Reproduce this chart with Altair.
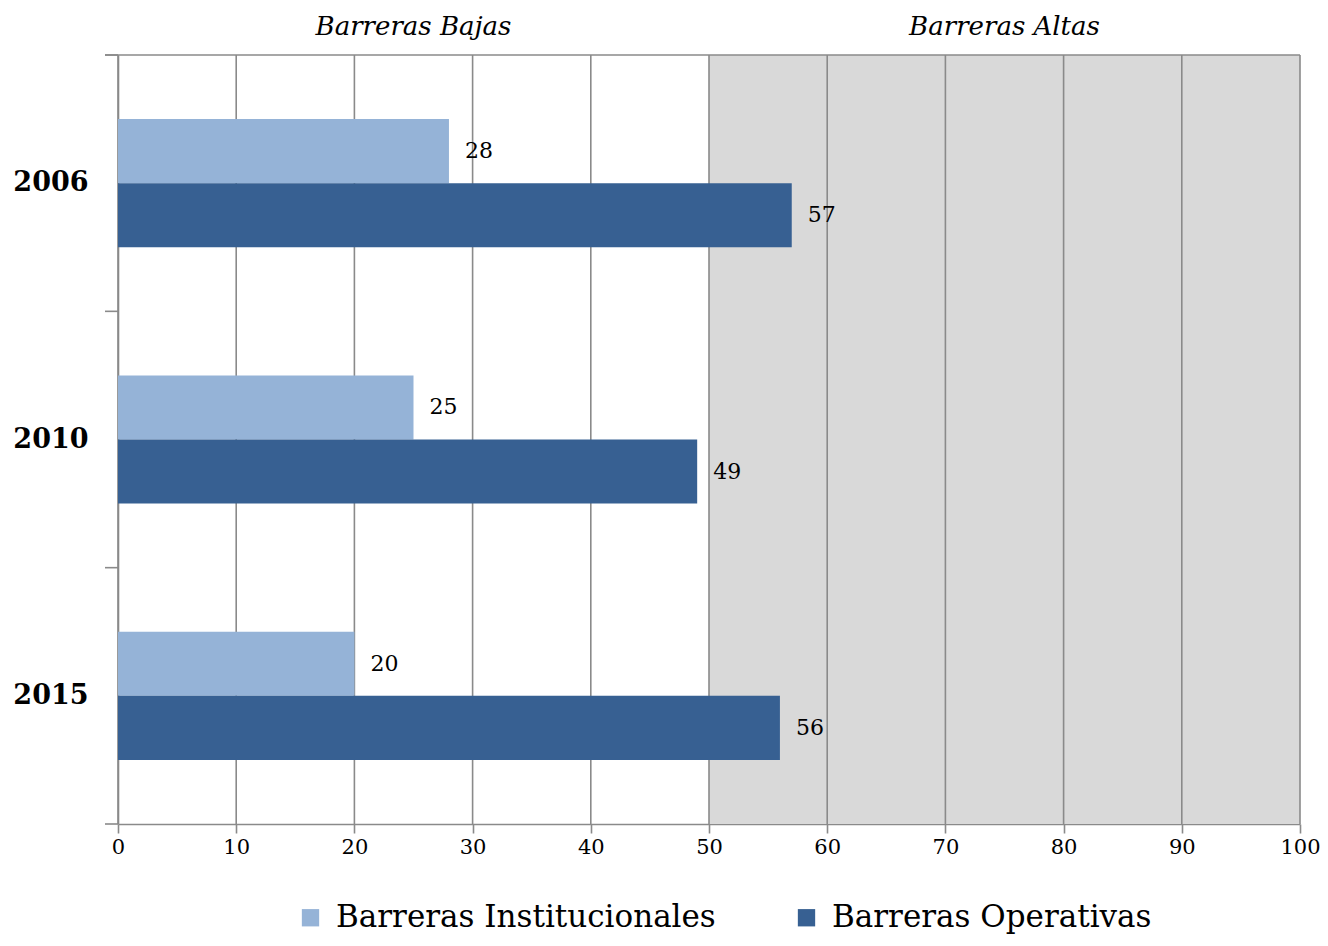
import altair as alt
import pandas as pd

years = ["2006", "2010", "2015"]
institucionales = [28, 25, 20]
operativas = [57, 49, 56]
series_names = ["Barreras Institucionales", "Barreras Operativas"]
series_colors = ["#95B3D7", "#376092"]
x_ticks = [0, 10, 20, 30, 40, 50, 60, 70, 80, 90, 100]
zone_labels = ["Barreras Bajas", "Barreras Altas"]
zone_start = [0, 50]
zone_end = [50, 100]

W, H = 1182, 769
FONT = "DejaVu Serif"
GRID = "#8a8a8a"

rows = []
for i, y in enumerate(years):
    rows.append({"year": y, "series": series_names[0], "value": institucionales[i]})
    rows.append({"year": y, "series": series_names[1], "value": operativas[i]})
df = pd.DataFrame(rows)

zones = pd.DataFrame({"label": zone_labels, "start": zone_start, "end": zone_end,
                      "mid": [(a + b) / 2 for a, b in zip(zone_start, zone_end)]})
grid_df = pd.DataFrame({"x": x_ticks})
year_df = pd.DataFrame({"year": years})

xscale = alt.Scale(domain=[0, 100], nice=False)
xaxis = alt.Axis(values=x_ticks, title=None, grid=False, labelFont=FONT,
                 labelFontSize=21, labelColor="black", tickColor=GRID,
                 tickSize=9, tickWidth=1.6, domainColor=GRID, domainWidth=1.6,
                 labelPadding=3, labelFlush=False, labelOverlap=False)

yscale = alt.Scale(domain=years, paddingInner=0, paddingOuter=0)
yaxis = alt.Axis(title=None, ticks=False, labelFont=FONT, labelFontSize=27,
                 labelFontWeight="bold", labelColor="black", labelPadding=30,
                 domainColor=GRID, domainWidth=1.6)
yoff = alt.YOffset("series:N", sort=series_names,
                   scale=alt.Scale(domain=series_names, paddingInner=0, paddingOuter=1))

bg = alt.Chart(zones.iloc[[1]]).mark_rect(color="#D9D9D9").encode(
    x=alt.X("start:Q", scale=xscale, axis=xaxis),
    x2="end:Q",
    y=alt.value(0),
    y2=alt.value(H),
)

grid = alt.Chart(grid_df).mark_rule(color=GRID, strokeWidth=1.6).encode(
    x=alt.X("x:Q", scale=xscale, axis=xaxis),
    y=alt.value(0),
    y2=alt.value(H),
)

top_border = alt.Chart(grid_df.iloc[[0]]).mark_rule(color=GRID, strokeWidth=1.6).encode(
    x=alt.value(-13), x2=alt.value(W), y=alt.value(0)
)

bottom_tick = alt.Chart(grid_df.iloc[[0]]).mark_rule(color=GRID, strokeWidth=1.6).encode(
    x=alt.value(-13), x2=alt.value(0), y=alt.value(H)
)

yticks = alt.Chart(year_df).mark_rule(color=GRID, strokeWidth=1.6).encode(
    y=alt.Y("year:N", scale=yscale, axis=yaxis, bandPosition=0),
    x=alt.value(-13),
    x2=alt.value(0),
)

bars = alt.Chart(df).mark_bar().encode(
    x=alt.X("value:Q", scale=xscale, axis=xaxis),
    y=alt.Y("year:N", scale=yscale, axis=yaxis),
    yOffset=yoff,
    color=alt.Color("series:N", sort=series_names,
                    scale=alt.Scale(domain=series_names, range=series_colors),
                    legend=alt.Legend(title=None, orient="none", legendX=177, legendY=847,
                                      direction="horizontal", symbolType="square",
                                      symbolSize=300, symbolStrokeWidth=0,
                                      labelFont=FONT, labelFontSize=31, labelColor="black",
                                      labelOffset=10, columnPadding=75, labelLimit=600)),
)

labels = alt.Chart(df).mark_text(align="left", baseline="middle", dx=16, font=FONT,
                                 fontSize=22, color="black").encode(
    x=alt.X("value:Q", scale=xscale, axis=xaxis),
    y=alt.Y("year:N", scale=yscale, axis=yaxis),
    yOffset=yoff,
    text=alt.Text("value:Q"),
)

zone_text = alt.Chart(zones).mark_text(font=FONT, fontSize=26, fontStyle="italic",
                                       color="black", baseline="middle").encode(
    x=alt.X("mid:Q", scale=xscale, axis=xaxis),
    y=alt.value(-28),
    text="label:N",
)

chart = alt.layer(bg, grid, top_border, bottom_tick, yticks, bars, labels, zone_text).properties(
    width=W, height=H,
    padding={"left": 110, "top": 47, "right": 20, "bottom": 110},
    autosize=alt.AutoSizeParams(type="none"),
).configure_view(stroke=None)

chart.save("out.html", embed_options={"renderer": "svg", "actions": False})
